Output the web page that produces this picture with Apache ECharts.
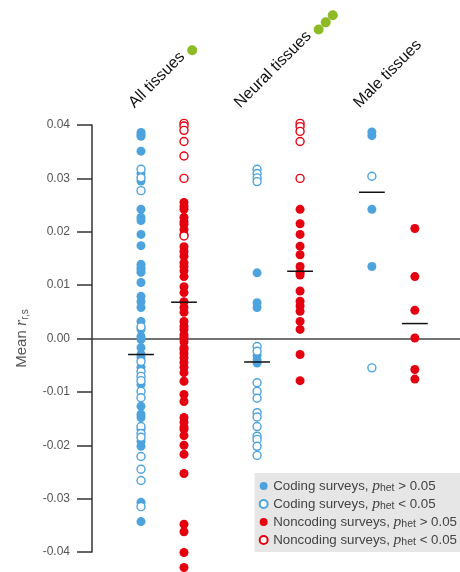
<!DOCTYPE html>
<html>
<head>
<meta charset="utf-8">
<script src="https://cdn.jsdelivr.net/npm/echarts@6/dist/echarts.min.js"></script>
<style>
html, body { margin: 0; padding: 0; background: #fff; }
#main { width: 460px; height: 572px; }
</style>
</head>
<body>
<div id="main"></div>
<script>
// 组别
var groups = ['All tissues', 'Neural tissues', 'Male tissues'];
var groupDots = [1, 3, 0];
var yTicks = [-0.04, -0.03, -0.02, -0.01, 0, 0.01, 0.02, 0.03, 0.04];

// 每组的点 (High: p_het > 0.05 实心, Low: p_het < 0.05 空心)
var allCodingHigh = [0.0386, 0.0382, 0.0379, 0.0351, 0.0309, 0.0295, 0.0242, 0.0227, 0.0221, 0.0195, 0.0174, 0.0139, 0.0133, 0.0129, 0.0124, 0.0105, 0.0079, 0.0069, 0.0058, 0.0032, 0.0017, 0.0004, -0.0002, -0.0017, -0.0030, -0.0036, -0.0054, -0.0086, -0.0127, -0.0142, -0.0148, -0.0170, -0.0193, -0.0202, -0.0307, -0.0343];
var allCodingLow = [0.0317, 0.0301, 0.0277, 0.0022, -0.0043, -0.0062, -0.0071, -0.0079, -0.0099, -0.0111, -0.0165, -0.0178, -0.0185, -0.0221, -0.0245, -0.0266, -0.0315];
var allNoncodingHigh = [0.0255, 0.0248, 0.0242, 0.0227, 0.0219, 0.0214, 0.0204, 0.0195, 0.0172, 0.0163, 0.0154, 0.0142, 0.0135, 0.0127, 0.0116, 0.0097, 0.0086, 0.0069, 0.0058, 0.0049, 0.0032, 0.0023, 0.0017, 0.0007, 0.0002, -0.0006, -0.0017, -0.0021, -0.0028, -0.0036, -0.0045, -0.0054, -0.0064, -0.0080, -0.0105, -0.0118, -0.0148, -0.0157, -0.0166, -0.0170, -0.0182, -0.0200, -0.0217, -0.0253, -0.0348, -0.0362, -0.0401, -0.0429];
var allNoncodingLow = [0.0403, 0.0398, 0.0390, 0.0369, 0.0342, 0.0300, 0.0192];

var neuralCodingHigh = [0.0123, 0.0067, 0.0058, -0.0032, -0.0040, -0.0046];
var neuralCodingLow = [0.0317, 0.0309, 0.0301, 0.0294, -0.0015, -0.0024, -0.0083, -0.0099, -0.0112, -0.0139, -0.0147, -0.0165, -0.0183, -0.0189, -0.0202, -0.0219];
var neuralNoncodingHigh = [0.0242, 0.0215, 0.0195, 0.0173, 0.0157, 0.0135, 0.0124, 0.0119, 0.0089, 0.0070, 0.0061, 0.0051, 0.0032, 0.0017, -0.0030, -0.0079];
var neuralNoncodingLow = [0.0403, 0.0397, 0.0388, 0.0369, 0.0300];

var maleCodingHigh = [0.0387, 0.0380, 0.0242, 0.0135];
var maleCodingLow = [0.0304, -0.0055];
var maleNoncodingHigh = [0.0206, 0.0116, 0.0053, 0.0001, -0.0058, -0.0076];
var maleNoncodingLow = [];

var codingMeans = [-0.0030, -0.0044, 0.0274];
var noncodingMeans = [0.0068, 0.0126, 0.0028];

// 布局
var groupPos = [0, 2.7, 5.37];
var blue = '#4da3dd', red = '#e5000f', green = '#8dbb25';
var font = 'Liberation Sans, Arial, Helvetica, sans-serif';

function pts(lists, offset) {
    var out = [];
    lists.forEach(function(list, g) {
        list.forEach(function(v) { out.push([groupPos[g] + offset, v]); });
    });
    return out;
}

var names = ['codingHigh', 'codingLow', 'noncodingHigh', 'noncodingLow'];
var labels = {
    codingHigh: 'Coding surveys, {i|p}{sub|het} > 0.05',
    codingLow: 'Coding surveys, {i|p}{sub|het} < 0.05',
    noncodingHigh: 'Noncoding surveys, {i|p}{sub|het} > 0.05',
    noncodingLow: 'Noncoding surveys, {i|p}{sub|het} < 0.05'
};

function scatter(name, data, color, filled) {
    return {
        name: name, type: 'scatter', data: data, clip: false, symbol: 'circle',
        symbolSize: filled ? 9 : 8,
        itemStyle: filled ? { color: color, opacity: 1 } : { color: '#fff', borderColor: color, borderWidth: 1.4, opacity: 1 },
        z: filled ? 2 : 3
    };
}

var meanData = pts([[codingMeans[0]], [codingMeans[1]], [codingMeans[2]]], 0)
    .concat(pts([[noncodingMeans[0]], [noncodingMeans[1]], [noncodingMeans[2]]], 1));

var myChart = echarts.init(document.getElementById('main'));
var option = {
    animation: false,
    grid: { left: 92, right: 0, top: 125, bottom: 20 },
    xAxis: {
        type: 'value', min: -1.14, max: 7.42,
        axisLine: { onZero: true, lineStyle: { color: '#444', width: 1.5 } },
        axisTick: { show: false }, axisLabel: { show: false }, splitLine: { show: false }
    },
    yAxis: {
        type: 'value', min: -0.04, max: 0.04, interval: 0.01,
        name: 'Mean {i|r}{sub|r,s}', nameLocation: 'middle', nameGap: 62, nameRotate: 90,
        nameTextStyle: {
            color: '#555', fontSize: 15, fontFamily: font,
            rich: {
                i: { fontStyle: 'italic', fontFamily: 'Liberation Serif, serif', fontSize: 16, color: '#555' },
                sub: { fontSize: 10, color: '#555', padding: [6, 0, 0, 0] }
            }
        },
        axisLine: { show: true, onZero: false, lineStyle: { color: '#333', width: 1.5 } },
        axisTick: { show: true, length: 15, lineStyle: { color: '#333', width: 1.5 } },
        axisLabel: {
            margin: 22, color: '#555', fontSize: 12, fontFamily: font,
            formatter: function(v) { return v.toFixed(2); }
        },
        splitLine: { show: false }
    },
    legend: {
        orient: 'vertical', right: 0, bottom: 20, data: names,
        backgroundColor: '#e6e6e6', padding: [5, 3, 4, 4], itemGap: 2,
        itemWidth: 9, itemHeight: 8, icon: 'circle', selectedMode: false,
        formatter: function(name) { return labels[name]; },
        textStyle: {
            color: '#444', fontSize: 13.3, fontFamily: font, lineHeight: 16,
            rich: {
                i: { fontStyle: 'italic', fontFamily: 'Liberation Serif, serif', fontSize: 15.5, color: '#444', lineHeight: 16 },
                sub: { fontSize: 10.5, color: '#444', padding: [5, 0, 0, 0], lineHeight: 16 }
            }
        }
    },
    series: [
        scatter('codingHigh', pts([allCodingHigh, neuralCodingHigh, maleCodingHigh], 0), blue, true),
        scatter('codingLow', pts([allCodingLow, neuralCodingLow, maleCodingLow], 0), blue, false),
        scatter('noncodingHigh', pts([allNoncodingHigh, neuralNoncodingHigh, maleNoncodingHigh], 1), red, true),
        scatter('noncodingLow', pts([allNoncodingLow, neuralNoncodingLow, maleNoncodingLow], 1), red, false),
        {
            type: 'custom', data: meanData, z: 5, silent: true,
            renderItem: function(params, api) {
                var a = api.coord([api.value(0) - 0.3, api.value(1)]),
                    b = api.coord([api.value(0) + 0.3, api.value(1)]);
                return { type: 'line', shape: { x1: a[0], y1: a[1], x2: b[0], y2: b[1] },
                         style: { stroke: '#111', lineWidth: 1.5 } };
            }
        }
    ]
};
myChart.setOption(option);

// 顶部组标签 (旋转 45°) + 绿色圆点
var ctx = document.createElement('canvas').getContext('2d');
ctx.font = '16px ' + font;
var c = Math.SQRT1_2, graphics = [];
groups.forEach(function(g, i) {
    var cx = myChart.convertToPixel({ gridIndex: 0 }, [groupPos[i] + 0.5, 0])[0],
        w = ctx.measureText(g).width,
        x0 = cx - w / 2 * c, y0 = 111;
    graphics.push({
        type: 'text', x: x0, y: y0, rotation: Math.PI / 4,
        style: { text: g, font: '16px ' + font, fill: '#111', align: 'left', verticalAlign: 'bottom' }
    });
    for (var k = 0; k < groupDots[i]; k++) {
        var d = w + 10 + k * 10;
        graphics.push({
            type: 'circle', shape: { cx: x0 + d * c - 4 * c, cy: y0 - d * c - 4 * c, r: 5 },
            style: { fill: green }
        });
    }
});
myChart.setOption({ graphic: graphics });
</script>
</body>
</html>
